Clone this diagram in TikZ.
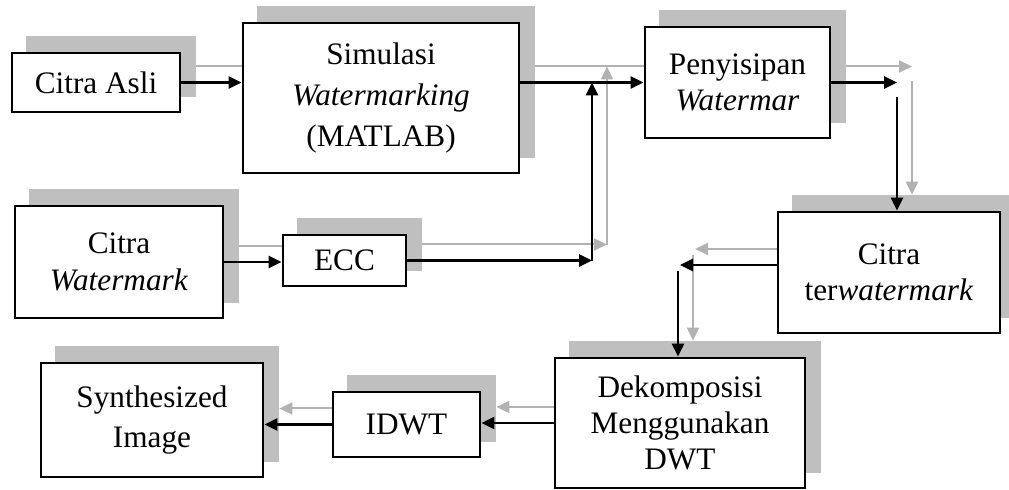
\documentclass[tikz,border=0pt]{standalone}
\usepackage{fontspec}
\setmainfont{Liberation Serif}
\usetikzlibrary{arrows.meta}

\newcommand\lbl[1]{#1}
% one pass of the chart; drawn twice (shade, then front)
\newcommand\chart{%
  \node[box={168}{59}]  (asli)  at (96,82.5)   {\lbl{Citra Asli}};
  \node[box={276}{150}, font=\fontsize{12.5}{16.5}\selectfont] (sim) at (381,98)
    {\lbl{Simulasi\\\textit{Watermarking}\\(MATLAB)}};
  \node[box={185}{111}] (peny)  at (737.5,82.5){\lbl{Penyisipan\\\textit{Watermar}}};
  \node[box={208}{112}] (wm)    at (119,262)   {\lbl{Citra\\\textit{Watermark}}};
  \node[box={123}{51}]  (ecc)   at (344.5,260.5){\lbl{ECC}};
  \node[box={222}{121}] (terwm) at (889,272.5) {\lbl{Citra\\ter\textit{watermark}}};
  \node[box={250}{130}] (dek)   at (680,423)   {\lbl{Dekomposisi\\Menggunakan\\DWT}};
  \node[box={147}{65}]  (idwt)  at (406.5,424.5){\lbl{IDWT}};
  \node[box={222}{114}, font=\fontsize{12.5}{16}\selectfont] (synth) at (152,420)
    {\lbl{Synthesized\\Image}};
  \coordinate (mix)    at (592,261);
  \coordinate (turn-a) at (897,83);
  \coordinate (turn-b) at (897,97);
  \coordinate (back-a) at (680,265);
  \coordinate (back-b) at (678,271);
  \begin{scope}[link]
    \draw (asli.east) to (asli.east -| sim.west);
    \draw (peny.west -| sim.east) to (peny.west);
    \draw (wm.east) to (wm.east -| ecc.west);
    \draw (ecc.east) to (ecc.east -| mix);
    \draw (mix) to (mix |- peny.west);
    \draw (peny.east) to (peny.east -| turn-a);
    \draw (turn-b) to (turn-b |- terwm.north);
    \draw (back-a -| terwm.west) to (back-a);
    \draw (back-b) to (back-b |- dek.north);
    \draw (dek.west) to (dek.west -| idwt.east);
    \draw (idwt.west) to (idwt.west -| synth.east);
  \end{scope}%
}

\begin{document}
\begin{tikzpicture}[x=0.4pt, y=-0.4pt,
    boxcol/.style={draw=black, fill=white},
    linkcol/.style={draw=black, fill=black, line width=1.1pt},
    box/.style 2 args={boxcol, line width=1.1pt, inner sep=1pt, align=center,
      font=\fontsize{12.5}{14.5}\selectfont,
      minimum width=#1*0.4pt, minimum height=#2*0.4pt},
    link/.style={linkcol, -{Triangle[length=5.2pt,width=4.8pt]}}]
  \useasboundingbox (0,0) rectangle (1009,490);
  % shade
  \begin{scope}[shift={(15,-16)}, name prefix=s-,
      boxcol/.style={draw=black!25, fill=black!25},
      linkcol/.style={draw=black!30, fill=black!30, line width=0.8pt}]
    \renewcommand\lbl[1]{}
    \chart
  \end{scope}
  % front
  \chart
\end{tikzpicture}
\end{document}
